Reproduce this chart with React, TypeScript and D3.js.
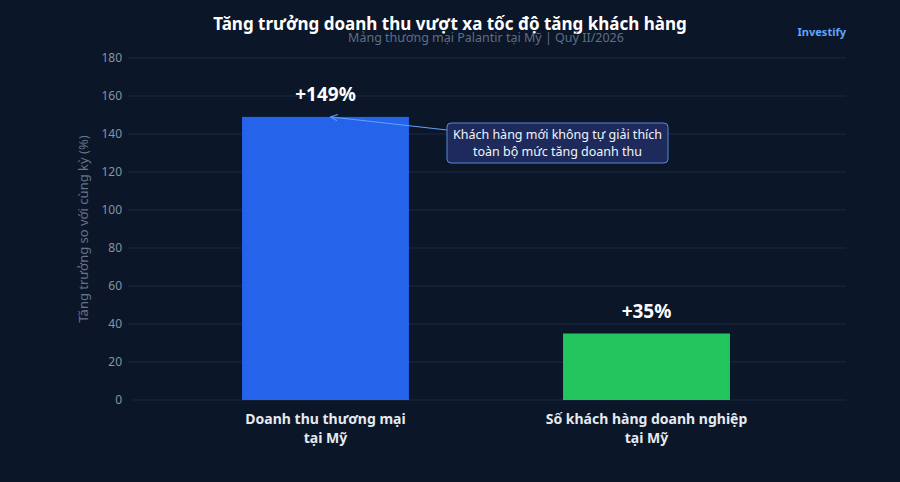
import React from 'react';
import * as d3 from 'd3';

const categories = ['Doanh thu thương mại|tại Mỹ', 'Số khách hàng doanh nghiệp|tại Mỹ'];
const values = [149, 35];
const valueLabels = ['+149%', '+35%'];
const barColors = ['#2563eb', '#22c55e'];
const yTicks = [0, 20, 40, 60, 80, 100, 120, 140, 160, 180];
const annotationLines = ['Khách hàng mới không tự giải thích', 'toàn bộ mức tăng doanh thu'];

const width = 900;
const height = 482;
const font = '"Noto Sans", "DejaVu Sans", sans-serif';

const App: React.FC = () => {
  const plotLeft = 128;
  const plotRight = 846;

  const x = d3.scaleBand<string>().domain(categories).range([165, 807]).paddingInner(0.48).paddingOuter(0.24);
  const y = d3.scaleLinear().domain([0, 180]).range([400, 58]);

  const bw = x.bandwidth();
  const targetX = (x(categories[0]) as number) + bw / 2 + 5;
  const targetY = y(values[0]);
  const box = { x: 447, y: 123, w: 221, h: 40 };

  return (
    <svg width={width} height={height} style={{ position: 'absolute', left: 0, top: 0, background: '#0b1628' }} fontFamily={font}>
      <rect width={width} height={height} fill="#0b1628" />
      <defs>
        <marker id="arr" viewBox="0 0 10 10" refX="9" refY="5" markerWidth="8" markerHeight="8" orient="auto-start-reverse">
          <path d="M0,1 L9,5 L0,9" fill="none" stroke="#60a5fa" strokeWidth="1.3" />
        </marker>
      </defs>

      {/* grid */}
      {yTicks.map(t => (
        <g key={t}>
          <line x1={t === 0 ? plotLeft + 4 : plotLeft} x2={plotRight} y1={y(t)} y2={y(t)} stroke="#1c2940" strokeWidth={1} />
          <text x={122} y={y(t)} dy="0.35em" textAnchor="end" fontSize={12} fill="#8593a8">{t}</text>
        </g>
      ))}

      <text transform={`translate(88,${y(90)}) rotate(-90)`} textAnchor="middle" fontSize={13} fill="#64748b">
        Tăng trưởng so với cùng kỳ (%)
      </text>

      {/* bars */}
      {categories.map((c, i) => (
        <g key={c}>
          <rect x={x(c)} y={y(values[i])} width={bw} height={y(0) - y(values[i])} fill={barColors[i]} />
          <text x={(x(c) as number) + bw / 2} y={y(values[i]) - 16} textAnchor="middle" fontSize={19} fontWeight="bold" fill="#ffffff">
            {valueLabels[i]}
          </text>
          {c.split('|').map((line, j) => (
            <text key={j} x={(x(c) as number) + bw / 2} y={424 + j * 19} textAnchor="middle" fontSize={14} fontWeight="bold" fill="#e5e9f0">
              {line}
            </text>
          ))}
        </g>
      ))}

      {/* annotation */}
      <line x1={box.x} y1={box.y + 7} x2={targetX} y2={targetY} stroke="#60a5fa" strokeWidth={1} markerEnd="url(#arr)" />
      <rect x={box.x} y={box.y} width={box.w} height={box.h} rx={4} fill="#1e2a5c" stroke="#5a86d6" strokeWidth={1} />
      {annotationLines.map((l, i) => (
        <text key={i} x={box.x + box.w / 2} y={box.y + 16 + i * 17} textAnchor="middle" fontSize={12.5} fill="#f1f5f9">{l}</text>
      ))}

      {/* titles */}
      <text x={450} y={30} textAnchor="middle" fontSize={17} fontWeight="bold" fill="#ffffff">
        Tăng trưởng doanh thu vượt xa tốc độ tăng khách hàng
      </text>
      <text x={486} y={42} textAnchor="middle" fontSize={12.5} fill="#5f6e85">
        Mảng thương mại Palantir tại Mỹ | Quý II/2026
      </text>
      <text x={846} y={36} textAnchor="end" fontSize={11} fontWeight="bold" fill="#60a5fa">Investify</text>
    </svg>
  );
};

export default App;
